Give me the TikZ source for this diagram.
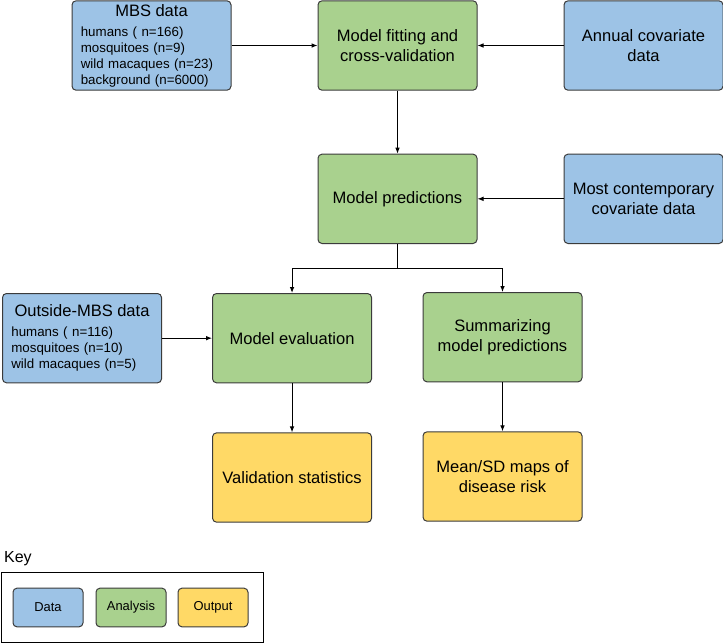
\documentclass[tikz,border=0pt]{standalone}
\usepackage{fontspec}
\setmainfont{Liberation Sans}
\usetikzlibrary{arrows.meta,positioning,fit,calc}
\definecolor{datablue}{HTML}{9DC3E6}
\definecolor{anagreen}{HTML}{A9D18E}
\definecolor{outyellow}{HTML}{FFD966}
\definecolor{edgegray}{HTML}{3B3B3B}

\begin{document}
\begin{tikzpicture}[
  x=0.75pt, y=-0.75pt,
  node distance=47.25pt and 64.5pt,
  box/.style={draw=edgegray, line width=0.75pt, rounded corners=3pt, align=center,
              font=\fontsize{12.4}{15}\selectfont, inner sep=0pt,
              minimum width=119.25pt, minimum height=67pt},
  databox/.style={box, fill=datablue},
  anabox/.style={box, fill=anagreen},
  outbox/.style={box, fill=outyellow},
  listbox/.style={databox, text width=106pt, align=left, font=\fontsize{10}{12}\selectfont},
  keybox/.style={draw=edgegray, line width=0.75pt, rounded corners=3pt, inner sep=0pt,
                 font=\fontsize{9.7}{12}\selectfont, minimum width=52.5pt, minimum height=29pt},
  arr/.style={-{Latex[length=4.5pt,width=3.5pt]}, line width=0.75pt}
]
\useasboundingbox (0,0) rectangle (723,643);

\node[anabox] (fit) at (397.5,45.5) {Model fitting and\\cross-validation};
\node[listbox, left=of fit] (mbs) {\centerline{\fontsize{12.4}{15}\selectfont MBS data}\vskip3pt
  humans ( n=166)\\mosquitoes (n=9)\\wild macaques (n=23)\\background (n=6000)};
\node[databox, right=of fit] (annual) {Annual covariate\\data};
\node[anabox, below=of fit] (pred) {Model predictions};
\node[databox, right=of pred] (contemp) {Most contemporary\\covariate data};
\coordinate[below=18pt of pred] (split);
\node[anabox, below=36.75pt of pred, xshift=-79.1pt] (eval) {Model evaluation};
\node[anabox, below=36pt of pred, xshift=78.75pt] (summ) {Summarizing\\model predictions};
\node[listbox, left=37.5pt of eval] (outside) {\centerline{\fontsize{12.4}{15}\selectfont Outside-MBS data}\vskip3pt
  humans ( n=116)\\mosquitoes (n=10)\\wild macaques (n=5)};
\node[outbox, below=36.75pt of eval] (valid) {Validation statistics};
\node[outbox, below=36.75pt of summ] (maps) {Mean/SD maps of\\disease risk};

% key
\node[keybox, fill=datablue] (kdata) at (48,607.5) {Data};
\node[keybox, fill=anagreen, right=9pt of kdata] (kana) {Analysis};
\node[keybox, fill=outyellow, right=8.25pt of kana] (kout) {Output};
\node[draw=black, line width=0.75pt, inner xsep=9.4pt, inner ysep=11.6pt, xshift=1.5pt,
      fit=(kdata)(kana)(kout)] (keyframe) {};
\node[anchor=base west, font=\fontsize{12}{14}\selectfont] (keylbl)
  at ($(keyframe.north west)+(-1.5pt,7.1pt)$) {Key};

\draw[arr] (mbs) -- (fit);
\draw[arr] (annual) -- (fit);
\draw[arr] (fit) -- (pred);
\draw[arr] (contemp) -- (pred);
\draw[line width=0.75pt] (pred) -- (split);
\draw[arr] (split) -| (eval);
\draw[arr] (split) -| (summ);
\draw[arr] (outside) -- (eval);
\draw[arr] (eval) -- (valid);
\draw[arr] (summ) -- (maps);
\end{tikzpicture}
\end{document}
